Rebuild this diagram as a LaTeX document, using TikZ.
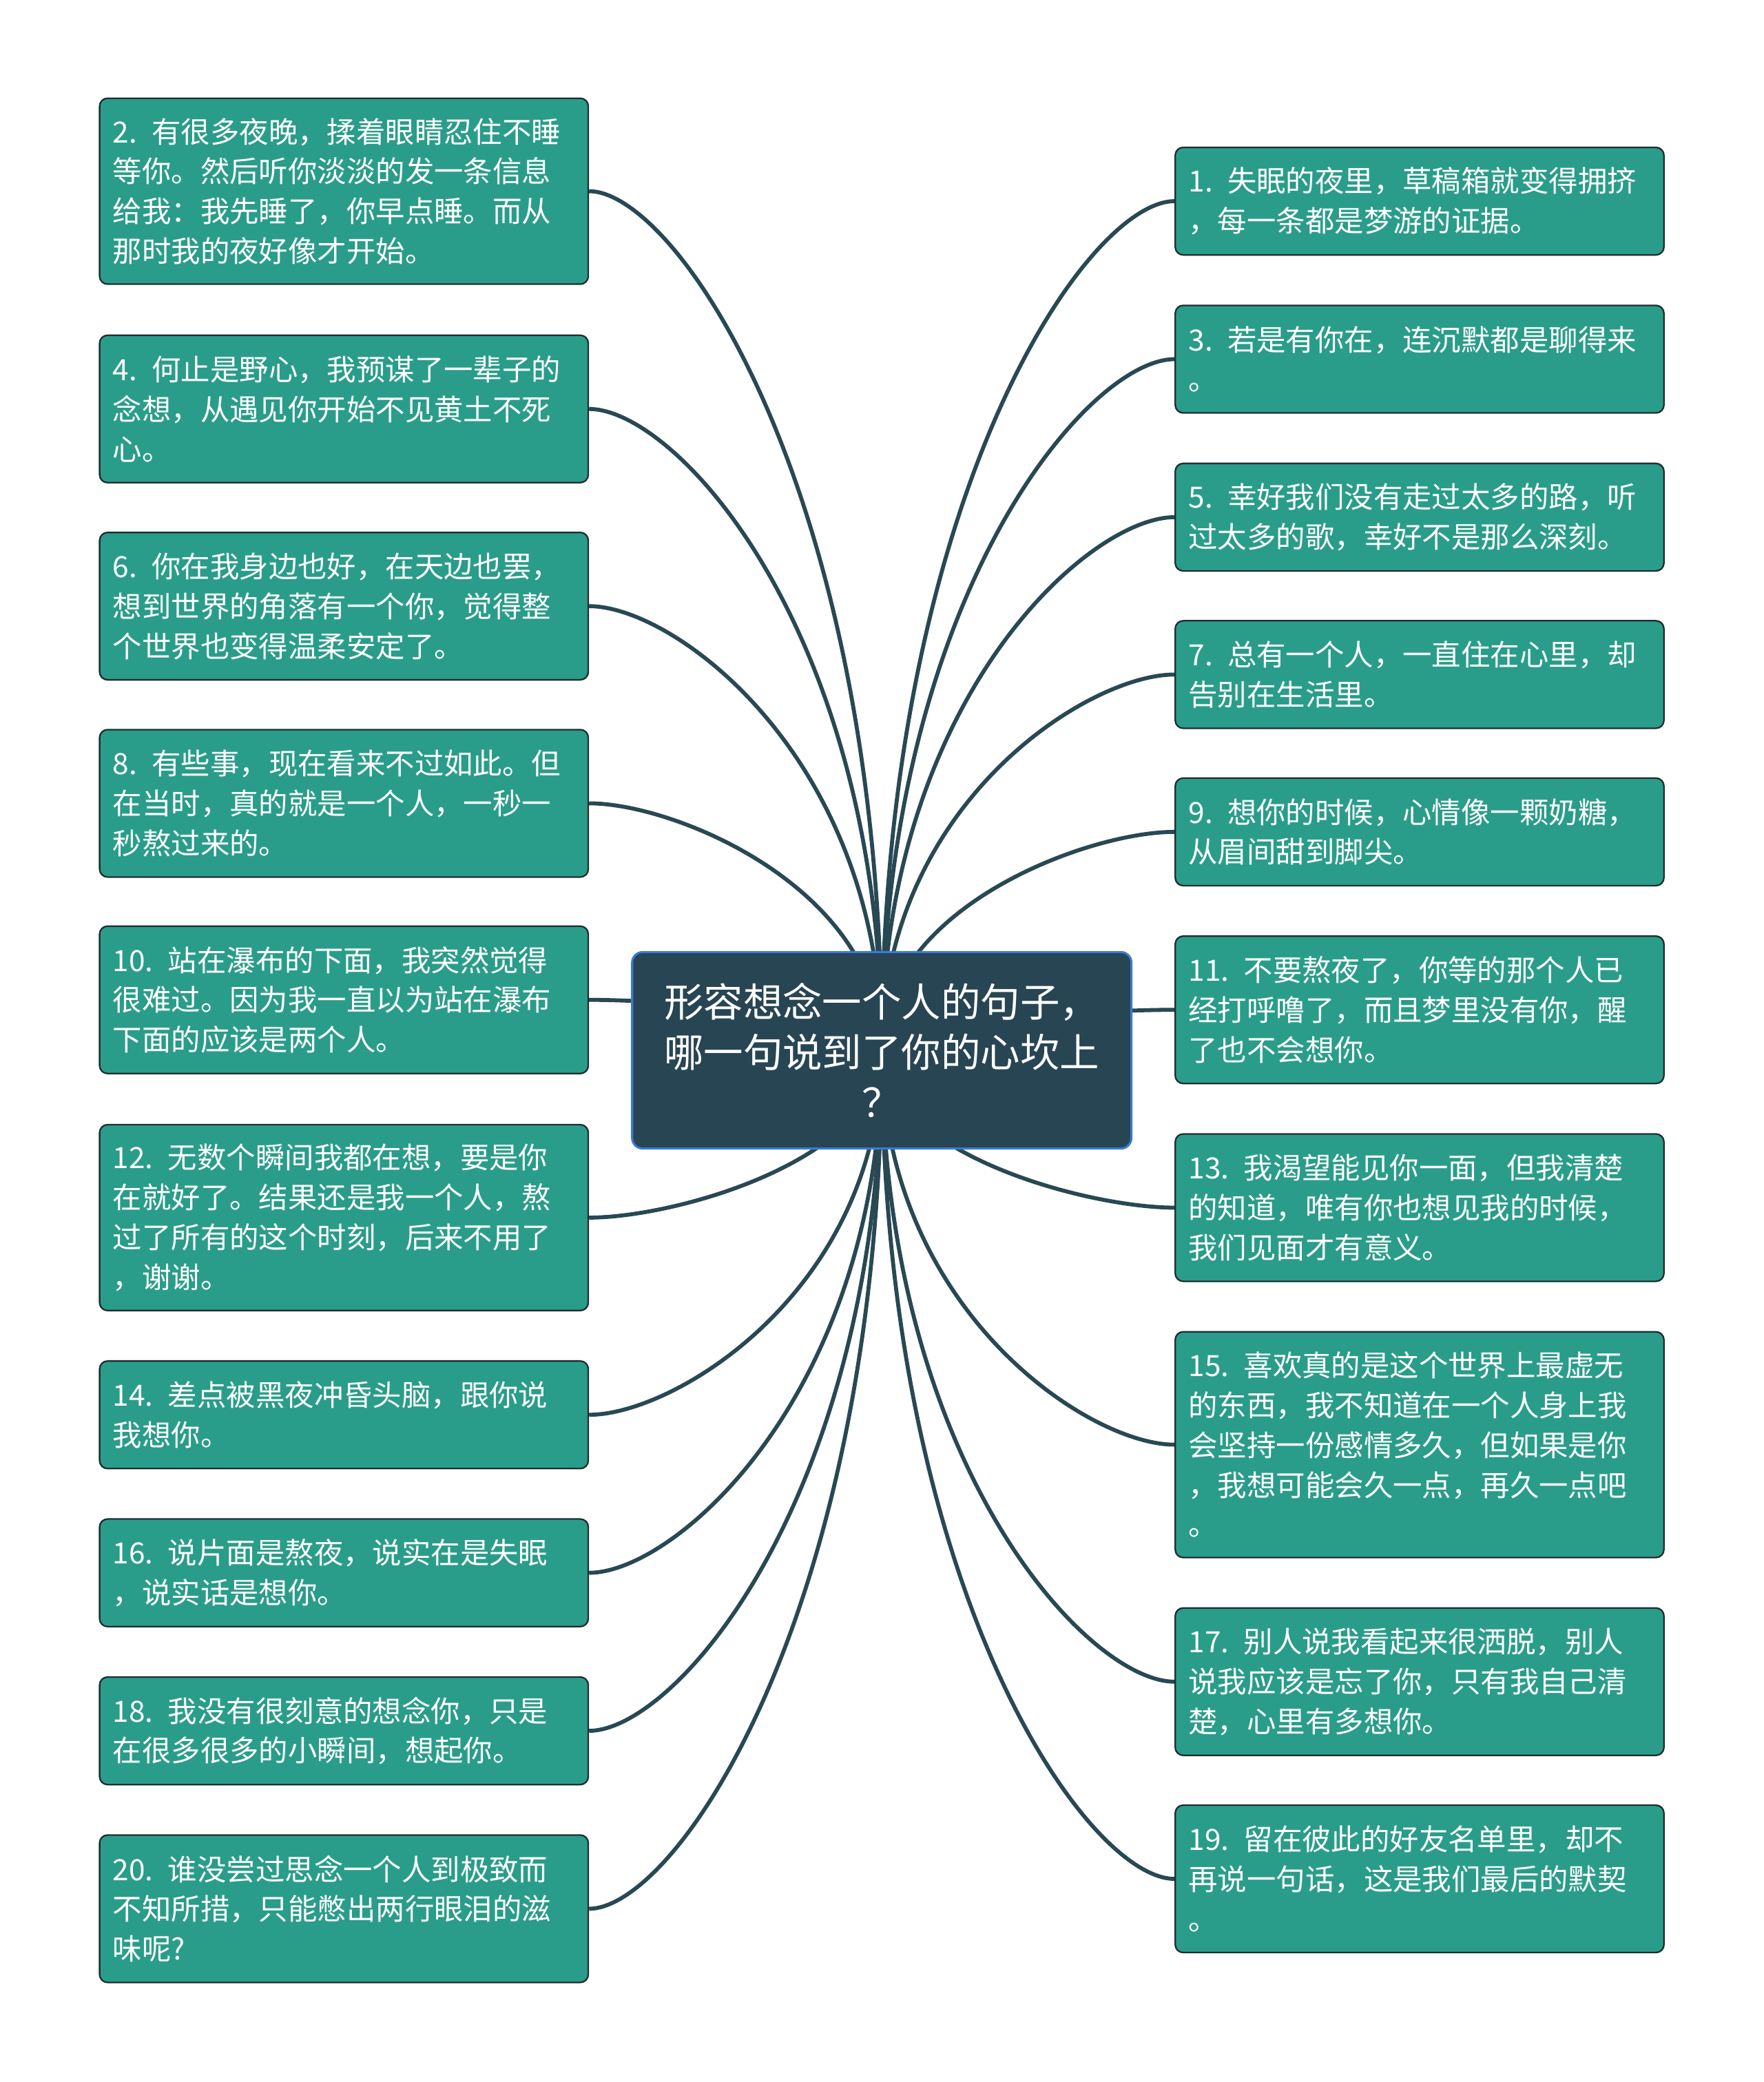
\documentclass[tikz,border=0pt]{standalone}
\usepackage{fontspec}
\setmainfont{Noto Sans CJK SC}
\usetikzlibrary{calc,backgrounds}

\definecolor{leafteal}{HTML}{2A9D8A}
\definecolor{leafline}{HTML}{1F2E30}
\definecolor{rootfill}{HTML}{284553}
\definecolor{rootblue}{HTML}{3A7BD5}
\definecolor{branchcol}{HTML}{284854}

\tikzset{
  leaf/.style={draw=leafline, fill=leafteal, rounded corners=3pt, line width=0.6pt,
    text=white, align=left, text width=174pt, inner xsep=5pt, inner ysep=0pt,
    font=\fontsize{11}{15}\selectfont},
  twoline/.style={leaf, minimum height=40.5pt},
  threeline/.style={leaf, minimum height=55.5pt},
  fourline/.style={leaf, minimum height=70pt},
  fiveline/.style={leaf, minimum height=85pt},
  root/.style={draw=rootblue, fill=rootfill, rounded corners=4pt, line width=0.8pt,
    text=white, align=center, minimum width=188pt, minimum height=74pt,
    font=\fontsize{14.9}{19}\selectfont},
  branch/.style={draw=branchcol, line width=1.5pt},
  leftcurve/.style={to path={.. controls +(66,0) and ($(\tikztotarget)!0.65!(\tikztotarget |- \tikztostart)$) .. (\tikztotarget)}},
  rightcurve/.style={to path={.. controls +(-66,0) and ($(\tikztotarget)!0.65!(\tikztotarget |- \tikztostart)$) .. (\tikztotarget)}}
}

\begin{document}
\begin{tikzpicture}[x=0.5pt, y=-0.5pt]
        \useasboundingbox (0,0) rectangle (1328,1568);

        % Central topic
        \node[root] (root) at (664,791) {形容想念一个人的句子，\\哪一句说到了你的心坎上\\？};

        % Left column
        \node[fourline] (l2) at (259,144) {2. 有很多夜晚，揉着眼睛忍住不睡\\等你。然后听你淡淡的发一条信息\\给我：我先睡了，你早点睡。而从\\那时我的夜好像才开始。};
        \node[threeline] (l4) at (259,308) {4. 何止是野心，我预谋了一辈子的\\念想，从遇见你开始不见黄土不死\\心。};
        \node[threeline] (l6) at (259,456.5) {6. 你在我身边也好，在天边也罢，\\想到世界的角落有一个你，觉得整\\个世界也变得温柔安定了。};
        \node[threeline] (l8) at (259,605) {8. 有些事，现在看来不过如此。但\\在当时，真的就是一个人，一秒一\\秒熬过来的。};
        \node[threeline] (l10) at (259,753) {10. 站在瀑布的下面，我突然觉得\\很难过。因为我一直以为站在瀑布\\下面的应该是两个人。};
        \node[fourline] (l12) at (259,917) {12. 无数个瞬间我都在想，要是你\\在就好了。结果还是我一个人，熬\\过了所有的这个时刻，后来不用了\\，谢谢。};
        \node[twoline] (l14) at (259,1065.5) {14. 差点被黑夜冲昏头脑，跟你说\\我想你。};
        \node[twoline] (l16) at (259,1184.5) {16. 说片面是熬夜，说实在是失眠\\，说实话是想你。};
        \node[twoline] (l18) at (259,1303.5) {18. 我没有很刻意的想念你，只是\\在很多很多的小瞬间，想起你。};
        \node[threeline] (l20) at (259,1437.5) {20. 谁没尝过思念一个人到极致而\\不知所措，只能憋出两行眼泪的滋\\味呢?};

        % Right column
        \node[twoline] (r1) at (1069,151.5) {1. 失眠的夜里，草稿箱就变得拥挤\\，每一条都是梦游的证据。};
        \node[twoline] (r3) at (1069,270.5) {3. 若是有你在，连沉默都是聊得来\\。};
        \node[twoline] (r5) at (1069,389.5) {5. 幸好我们没有走过太多的路，听\\过太多的歌，幸好不是那么深刻。};
        \node[twoline] (r7) at (1069,508) {7. 总有一个人，一直住在心里，却\\告别在生活里。};
        \node[twoline] (r9) at (1069,626.5) {9. 想你的时候，心情像一颗奶糖，\\从眉间甜到脚尖。};
        \node[threeline] (r11) at (1069,760.5) {11. 不要熬夜了，你等的那个人已\\经打呼噜了，而且梦里没有你，醒\\了也不会想你。};
        \node[threeline] (r13) at (1069,909.5) {13. 我渴望能见你一面，但我清楚\\的知道，唯有你也想见我的时候，\\我们见面才有意义。};
        \node[fiveline] (r15) at (1069,1088) {15. 喜欢真的是这个世界上最虚无\\的东西，我不知道在一个人身上我\\会坚持一份感情多久，但如果是你\\，我想可能会久一点，再久一点吧\\。};
        \node[threeline] (r17) at (1069,1266.5) {17. 别人说我看起来很洒脱，别人\\说我应该是忘了你，只有我自己清\\楚，心里有多想你。};
        \node[threeline] (r19) at (1069,1415) {19. 留在彼此的好友名单里，却不\\再说一句话，这是我们最后的默契\\。};

        % Branches (behind the boxes)
        \begin{scope}[on background layer]
        \draw[branch, leftcurve] (l2.east) to (root.center);
        \draw[branch, leftcurve] (l4.east) to (root.center);
        \draw[branch, leftcurve] (l6.east) to (root.center);
        \draw[branch, leftcurve] (l8.east) to (root.center);
        \draw[branch, leftcurve] (l10.east) to (root.center);
        \draw[branch, leftcurve] (l12.east) to (root.center);
        \draw[branch, leftcurve] (l14.east) to (root.center);
        \draw[branch, leftcurve] (l16.east) to (root.center);
        \draw[branch, leftcurve] (l18.east) to (root.center);
        \draw[branch, leftcurve] (l20.east) to (root.center);
        \draw[branch, rightcurve] (r1.west) to (root.center);
        \draw[branch, rightcurve] (r3.west) to (root.center);
        \draw[branch, rightcurve] (r5.west) to (root.center);
        \draw[branch, rightcurve] (r7.west) to (root.center);
        \draw[branch, rightcurve] (r9.west) to (root.center);
        \draw[branch, rightcurve] (r11.west) to (root.center);
        \draw[branch, rightcurve] (r13.west) to (root.center);
        \draw[branch, rightcurve] (r15.west) to (root.center);
        \draw[branch, rightcurve] (r17.west) to (root.center);
        \draw[branch, rightcurve] (r19.west) to (root.center);
        \end{scope}
\end{tikzpicture}
\end{document}
